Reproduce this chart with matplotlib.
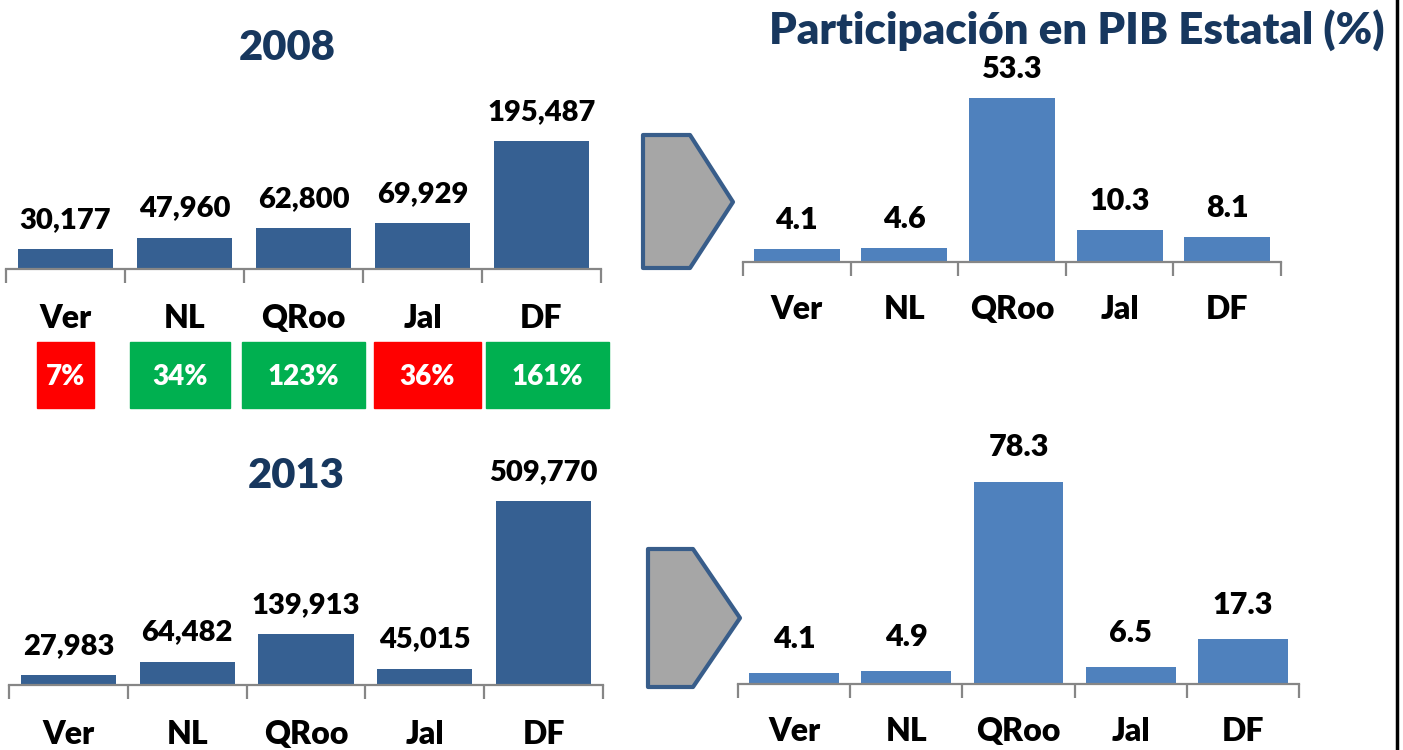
import matplotlib
matplotlib.use("Agg")
import matplotlib.pyplot as plt
from matplotlib.patches import Polygon, Rectangle
from matplotlib.lines import Line2D
import numpy as np

# datos
estados = ["Ver", "NL", "QRoo", "Jal", "DF"]
pib_2008 = [30177, 47960, 62800, 69929, 195487]
pib_2013 = [27983, 64482, 139913, 45015, 509770]
part_2008 = [4.1, 4.6, 53.3, 10.3, 8.1]
part_2013 = [4.1, 4.9, 78.3, 6.5, 17.3]

W, H = 1403, 750
plt.rcParams['font.family'] = ['Lato', 'DejaVu Sans']
BOLD = 'heavy'

fig = plt.figure(figsize=(W / 100, H / 100), dpi=100)

NAVY = '#17375E'
DARK = '#366092'
LIGHT = '#4F81BD'
GRAY = '#868686'


def box(x0, x1, ybase, ytop):
    # pixel box -> figure fraction
    return [x0 / W, 1 - ybase / H, (x1 - x0) / W, (ybase - ytop) / H]


def px(x, y):
    return (x / W, 1 - y / H)


def bar_panel(rect, values, color, ymax, fmt, vsize, voff, cpad):
    ax = fig.add_axes(rect)
    x = np.arange(len(values))
    bars = ax.bar(x, values, width=0.8, color=color, zorder=2)
    ax.set_xlim(-0.5, len(values) - 0.5)
    ax.set_ylim(0, ymax)
    for s in ['top', 'left', 'right']:
        ax.spines[s].set_visible(False)
    ax.spines['bottom'].set_color(GRAY)
    ax.spines['bottom'].set_linewidth(1.6)
    ax.set_yticks([])
    ax.set_xticks(np.arange(len(values) + 1) - 0.5)
    ax.set_xticklabels([])
    ax.tick_params(axis='x', which='major', length=10, width=1.6, color=GRAY)
    ax.set_xticks(x, minor=True)
    ax.set_xticklabels(estados, minor=True, fontsize=23, fontweight=BOLD)
    ax.tick_params(axis='x', which='minor', length=0, pad=cpad)
    for b, v in zip(bars, values):
        ax.annotate(fmt(v), (b.get_x() + b.get_width() / 2, v),
                    xytext=(0, voff), textcoords='offset points',
                    ha='center', va='center', fontsize=vsize, fontweight=BOLD)
    return ax


ax1 = bar_panel(box(6, 601, 269, 60), pib_2008, DARK, 319000,
                lambda v: f"{v:,}", 21, 21, 25.5)
ax2 = bar_panel(box(9, 603, 685, 470), pib_2013, DARK, 595650,
                lambda v: f"{v:,}", 21, 21, 25.5)
ax3 = bar_panel(box(743, 1281, 262, 60), part_2008, LIGHT, 65.65,
                lambda v: f"{v:.1f}", 22, 21, 23.5)
ax4 = bar_panel(box(738, 1299, 684, 440), part_2013, LIGHT, 94.58,
                lambda v: f"{v:.1f}", 22, 25, 23.5)

fig.text(*px(287, 48), "2008", ha='center', va='center', fontsize=30,
         fontweight=BOLD, color=NAVY)
fig.text(*px(296, 476), "2013", ha='center', va='center', fontsize=30,
         fontweight=BOLD, color=NAVY)
fig.text(*px(1077, 30), "Participación en PIB Estatal (%)", ha='center',
         va='center', fontsize=31.5, fontweight=BOLD, color=NAVY)

# variación 2008 -> 2013
cambio = [(b / a - 1) * 100 for a, b in zip(pib_2008, pib_2013)]
anchos = [0.48, 0.84, 1.04, 0.9, 1.04]
despl = [0.0, -0.04, 0.0, 0.04, 0.05]
paso = ax1.transData.transform((1, 0))[0] - ax1.transData.transform((0, 0))[0]
for i, (c, w, d) in enumerate(zip(cambio, anchos, despl)):
    col = '#FF0000' if c < 0 else '#00B050'
    xc = ax1.transData.transform((i + d, 0))[0]
    wpx = w * paso
    fig.patches.append(Rectangle(px(xc - wpx / 2, 408), wpx / W, 66 / H,
                                 transform=fig.transFigure, color=col))
    fig.text(*px(xc, 377), f"{abs(c):.0f}%", ha='center', va='center',
             fontsize=20, fontweight=BOLD, color='white')

# flechas
for pts in ([(643, 135), (690, 135), (733, 202), (690, 268), (643, 268)],
            [(648, 549), (693, 549), (740, 618), (693, 687), (648, 687)]):
    fig.patches.append(Polygon([px(*p) for p in pts], closed=True,
                               transform=fig.transFigure, facecolor='#A6A6A6',
                               edgecolor='#385D8A', linewidth=3, joinstyle='round'))

fig.lines.append(Line2D([1397 / W, 1397 / W], [0, 1], transform=fig.transFigure,
                        color='black', linewidth=2.5))

fig.savefig("out.png", dpi=100)
